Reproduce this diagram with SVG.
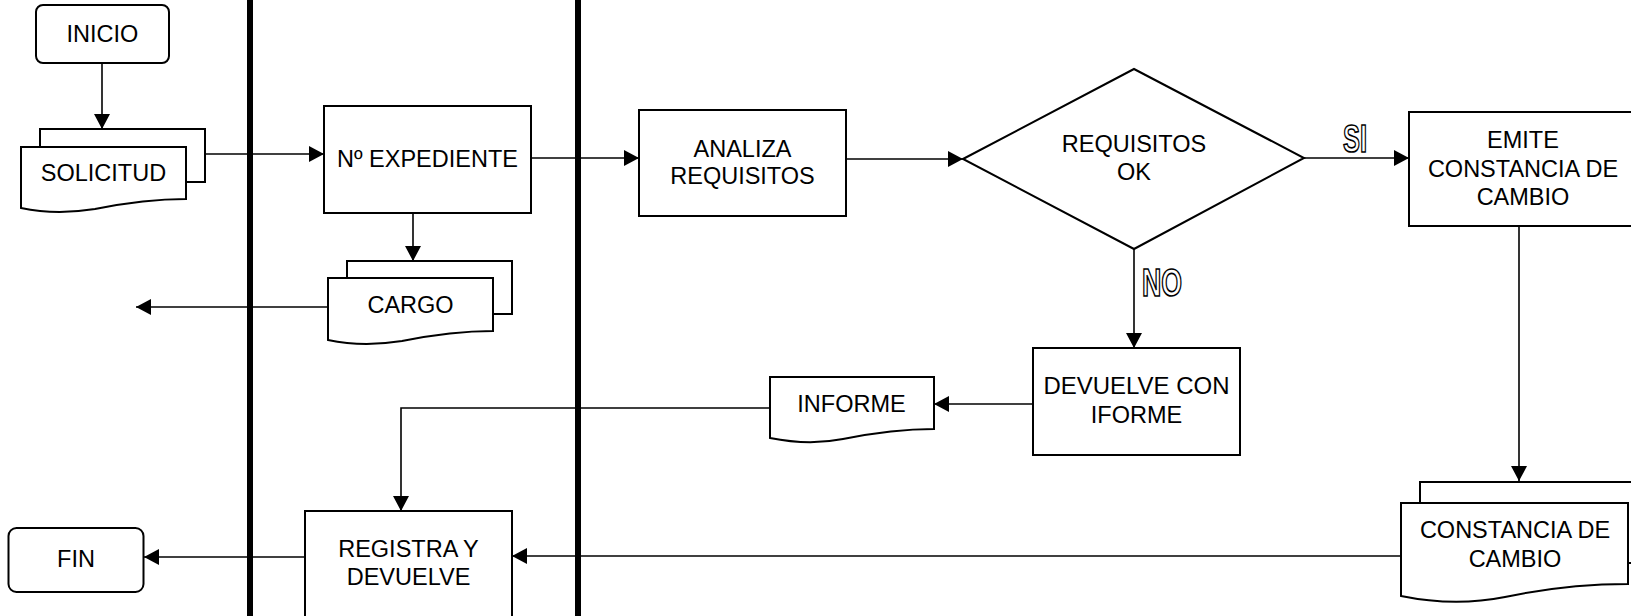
<svg xmlns="http://www.w3.org/2000/svg" width="1631" height="616" viewBox="0 0 1631 616">
<style>
.shape{fill:#fff;stroke:#000;stroke-width:2}
.conn{fill:none;stroke:#000;stroke-width:1.6}
.lane{stroke:#000;stroke-width:6}
.t{font-family:"Liberation Sans",Arial,sans-serif;font-size:23.5px;fill:#000;text-anchor:middle}
.lbl{font-family:"Liberation Sans",Arial,sans-serif;font-weight:bold;font-size:38px;fill:#fff;stroke:#000;stroke-width:1.7}
</style>
<defs>
<marker id="ah" markerUnits="userSpaceOnUse" markerWidth="16" markerHeight="16" refX="15" refY="8" orient="auto">
<path d="M0,0 L15,8 L0,16 z" fill="#000"/>
</marker>
</defs>
<rect width="1631" height="616" fill="#fff"/>
<g id="lanes">
<line class="lane" x1="250" y1="0" x2="250" y2="616"/>
<line class="lane" x1="578" y1="0" x2="578" y2="616"/>
</g>
<g id="connectors">
<line class="conn" x1="102" y1="63" x2="102" y2="129" marker-end="url(#ah)"/>
<line class="conn" x1="205" y1="154" x2="324" y2="154" marker-end="url(#ah)"/>
<line class="conn" x1="531" y1="158" x2="639" y2="158" marker-end="url(#ah)"/>
<line class="conn" x1="413" y1="213" x2="413" y2="261" marker-end="url(#ah)"/>
<line class="conn" x1="328" y1="307" x2="136" y2="307" marker-end="url(#ah)"/>
<line class="conn" x1="846" y1="159" x2="963" y2="159" marker-end="url(#ah)"/>
<line class="conn" x1="1304" y1="158" x2="1409" y2="158" marker-end="url(#ah)"/>
<line class="conn" x1="1134" y1="249" x2="1134" y2="348" marker-end="url(#ah)"/>
<line class="conn" x1="1519" y1="226" x2="1519" y2="481" marker-end="url(#ah)"/>
<line class="conn" x1="1033" y1="404" x2="934" y2="404" marker-end="url(#ah)"/>
<polyline class="conn" points="770,408 401,408 401,511" marker-end="url(#ah)"/>
<line class="conn" x1="1401" y1="556" x2="512" y2="556" marker-end="url(#ah)"/>
<line class="conn" x1="305" y1="557" x2="144" y2="557" marker-end="url(#ah)"/>
<text class="lbl" x="1343" y="152" textLength="24" lengthAdjust="spacingAndGlyphs">SI</text>
<text class="lbl" x="1142" y="296" textLength="40" lengthAdjust="spacingAndGlyphs">NO</text>
</g>
<g id="inicio">
<rect class="shape" x="36" y="5" width="133" height="58" rx="7"/>
<text class="t" x="102.5" y="41.5">INICIO</text>
</g>
<g id="solicitud">
<path class="shape" d="M40,147 V129 H205 V182 H186"/>
<path class="shape" d="M21,147 H186 V199 C150,199 120,204 95,209 C70,213 45,213 21,208 Z"/>
<text class="t" x="103.5" y="181">SOLICITUD</text>
</g>
<g id="expediente">
<rect class="shape" x="324" y="106" width="207" height="107"/>
<text class="t" x="427.5" y="166.5">Nº EXPEDIENTE</text>
</g>
<g id="cargo">
<path class="shape" d="M347,278 V261 H512 V314 H493"/>
<path class="shape" d="M328,278 H493 V331 C457,331 427,336 402,341 C377,345 352,345 328,340 Z"/>
<text class="t" x="410.5" y="313">CARGO</text>
</g>
<g id="analiza">
<rect class="shape" x="639" y="110" width="207" height="106"/>
<text class="t" x="742.5" y="156.7">ANALIZA</text>
<text class="t" x="742.5" y="184.4">REQUISITOS</text>
</g>
<g id="decision">
<polygon class="shape" points="963,159 1134,69 1304,158 1134,249"/>
<text class="t" x="1134" y="151.7">REQUISITOS</text>
<text class="t" x="1134" y="180">OK</text>
</g>
<g id="emite">
<rect class="shape" x="1409" y="112" width="240" height="114"/>
<text class="t" x="1523" y="148.4">EMITE</text>
<text class="t" x="1523" y="176.7">CONSTANCIA DE</text>
<text class="t" x="1523" y="205">CAMBIO</text>
</g>
<g id="devuelve">
<rect class="shape" x="1033" y="348" width="207" height="107"/>
<text class="t" x="1136.5" y="394" textLength="186" lengthAdjust="spacingAndGlyphs">DEVUELVE CON</text>
<text class="t" x="1136.5" y="423.4">IFORME</text>
</g>
<g id="informe">
<path class="shape" d="M770,377 H934 V429 C898,429 868,434 843,439 C818,444 795,443 770,438 Z"/>
<text class="t" x="851.5" y="411.7">INFORME</text>
</g>
<g id="constancia">
<path class="shape" d="M1420,503 V482 H1645 V563 H1628"/>
<path class="shape" d="M1401,503 H1628 V584 C1578,584 1538,590 1505,597 C1470,604 1435,603 1401,596 Z"/>
<text class="t" x="1515" y="538.4">CONSTANCIA DE</text>
<text class="t" x="1515" y="566.7">CAMBIO</text>
</g>
<g id="registra">
<rect class="shape" x="305" y="511" width="207" height="130"/>
<text class="t" x="408.5" y="557.4">REGISTRA Y</text>
<text class="t" x="408.5" y="585.4">DEVUELVE</text>
</g>
<g id="fin">
<rect class="shape" x="8.5" y="528" width="135" height="64" rx="8"/>
<text class="t" x="76" y="567.4">FIN</text>
</g>
</svg>
